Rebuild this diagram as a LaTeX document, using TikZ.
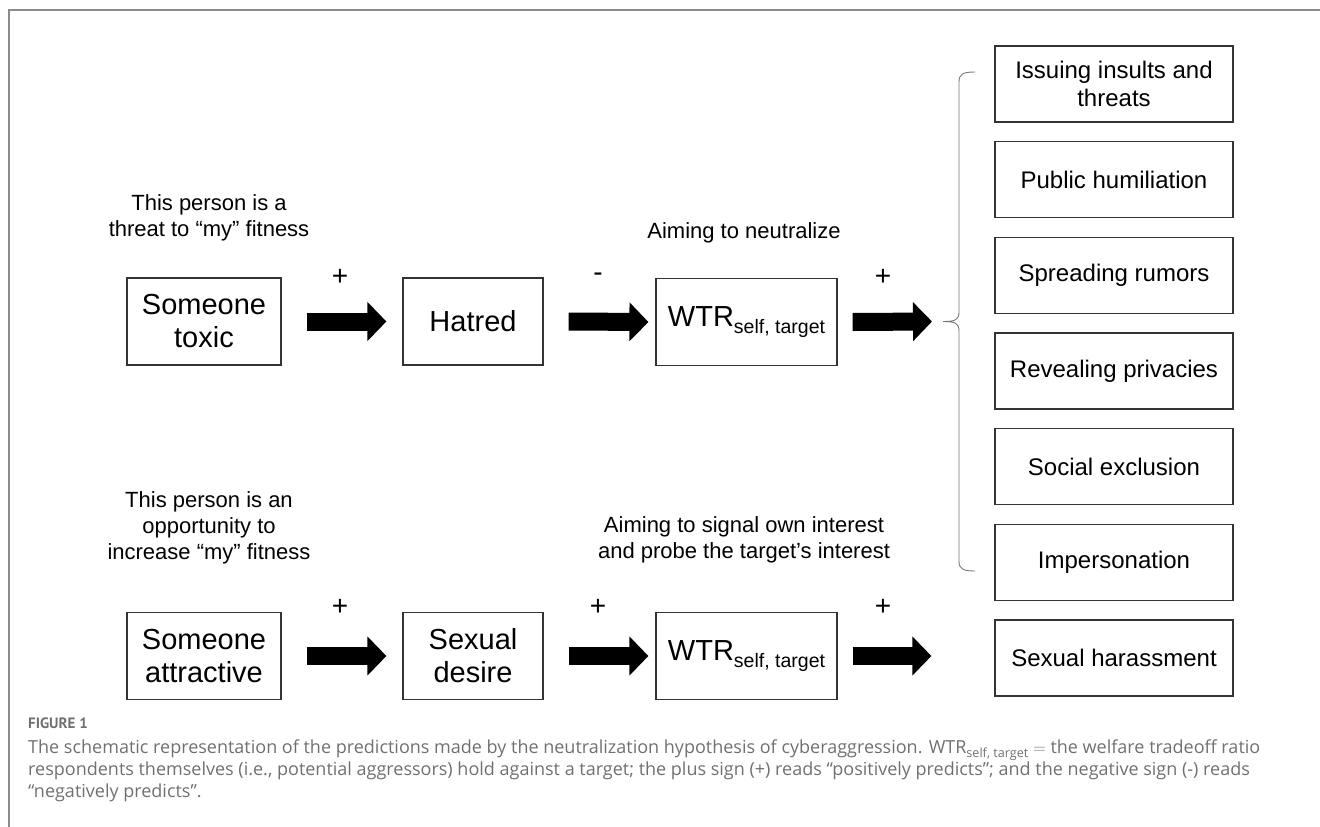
\documentclass[tikz,border=0pt]{standalone}
\usepackage{fontspec}
\setmainfont{Liberation Sans}
\newfontfamily\capfont{Open Sans}
\newfontfamily\figfont{PT Sans}
\usetikzlibrary{arrows.meta}
\definecolor{framegray}{HTML}{8C8C8C}
\definecolor{capgray}{HTML}{707070}
\definecolor{boxline}{HTML}{333333}
\definecolor{bracegray}{HTML}{777777}
\newcommand{\wtr}{WTR\raisebox{-7.5pt}{\fontsize{19.5}{20}\selectfont self, target}}

\begin{document}
\begin{tikzpicture}[x=1pt,y=-1pt,
  box/.style={draw=boxline, line width=1.2pt, minimum width=#1, minimum height=87pt,
    inner sep=0pt, align=center, font=\fontsize{29}{33}\selectfont},
  box/.default=154pt,
  outcome/.style={draw=boxline, line width=1.2pt, minimum width=238pt, minimum height=76pt,
    inner sep=0pt, align=center, font=\fontsize{24}{28}\selectfont},
  bigarrow/.style={line width=18pt, -{Triangle[length=19pt,width=38pt]}},
  note/.style={align=center, font=\fontsize{22}{26}\selectfont},
  sign/.style={font=\fontsize{28}{28}\selectfont}]
\useasboundingbox (0,0) rectangle (1320,827);
\draw [framegray, line width=2pt] (9,827) -- (9,10) -- (1320,10);

% top row: threat
\node [box] (toxic) at (204,321.5) {Someone\\toxic};
\node [box=140pt] (hatred) at (473,321.5) {Hatred};
\node [box=181pt] (wtrT) at (746.5,322) {\wtr};
\node [note] (threat) at (209,218) {This person is a\\threat to “my” fitness};
\node [note] (neutral) at (744,233) {Aiming to neutralize};

% bottom row: opportunity
\node [box] (attract) at (204,656) {Someone\\attractive};
\node [box=140pt] (desire) at (473,656) {Sexual\\desire};
\node [box=181pt] (wtrB) at (746.5,656) {\wtr};
\node [note] (oppo) at (209,527.5) {This person is an\\opportunity to\\increase “my” fitness};
\node [note] (signal) at (744,540) {Aiming to signal own interest\\and probe the target’s interest};

% outcomes
\foreach \txt [count=\i] in {{Issuing insults and\\threats}, Public humiliation,
    Spreading rumors, Revealing privacies, Social exclusion, Impersonation,
    Sexual harassment}
  \node [outcome] (out\i) at (1114,{84+(\i-1)*95.67}) {\txt};

% brace
\coordinate (braceT) at (975,72);
\coordinate (braceB) at (975,571);
\coordinate (tip) at (943,321.5);
\draw [bracegray, line width=0.9pt] (braceT) .. controls (963,72) and (959,74) .. (959,82)
  -- (959,312) .. controls (959,320) and (955,321.5) .. (tip)
  .. controls (955,321.5) and (959,323) .. (959,331)
  -- (959,561) .. controls (959,569) and (963,571) .. (braceB);

% arrows and signs
\draw [bigarrow] ([xshift=25pt]toxic.east) -- ([xshift=-16pt]hatred.west);
\draw [bigarrow] ([xshift=25pt]hatred.east) -- ([xshift=-7pt]wtrT.west);
\draw [bigarrow] ([xshift=15pt]wtrT.east) -- ([xshift=-11pt]tip);
\draw [bigarrow] ([xshift=25pt]attract.east) -- ([xshift=-16pt]desire.west);
\draw [bigarrow] ([xshift=25pt]desire.east) -- ([xshift=-7pt]wtrB.west);
\draw [bigarrow] ([xshift=15pt]wtrB.east) -- ([xshift=-63pt]wtrB.east -| out7.west);
\node [sign] (s1) at (340,277) {+};
\node [sign] (s2) at (598,277) {-};
\node [sign] (s3) at (883,277) {+};
\node [sign] (s4) at (340,607) {+};
\node [sign] (s5) at (598,607) {+};
\node [sign] (s6) at (883,607) {+};

% caption
\node [anchor=north west, inner sep=0pt, text=capgray, font=\figfont\bfseries\fontsize{15}{17}\selectfont] (fig) at (28,718) {FIGURE 1};
\node [anchor=north west, inner sep=0pt, text=capgray, align=left,
  font=\capfont\fontsize{18}{22}\selectfont] (cap) at (28,740)
  {The schematic representation of the predictions made by the neutralization hypothesis of cyberaggression. WTR\textsubscript{self, target} $=$ the welfare tradeoff ratio\\
   respondents themselves (i.e., potential aggressors) hold against a target; the plus sign (+) reads “positively predicts”; and the negative sign (-) reads\\
   “negatively predicts”.};
\end{tikzpicture}
\end{document}
